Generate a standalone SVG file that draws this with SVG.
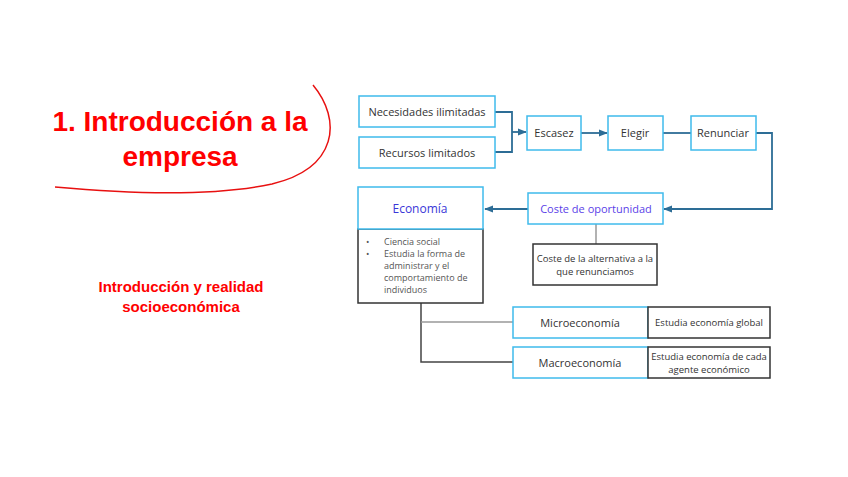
<svg xmlns="http://www.w3.org/2000/svg" width="848" height="477" viewBox="0 0 848 477">
<style>
.bx{fill:#fff;stroke:#3fbbec;stroke-width:1.5}
.bk{fill:#fff;stroke:#333;stroke-width:1.5}
.t{font-family:"Open Sans","Liberation Sans",sans-serif;font-size:11px;fill:#333;text-anchor:middle}
.s{font-family:"Open Sans","Liberation Sans",sans-serif;font-size:9px;fill:#555}
.c{fill:none;stroke:#2d6d96;stroke-width:1.8}
.g{fill:none;stroke:#999;stroke-width:1.5}
.d{fill:none;stroke:#444;stroke-width:1.5}
.red{font-family:"Liberation Sans",Arial,sans-serif;font-weight:bold;fill:#ff0000;text-anchor:middle}
</style>
<defs>
<marker id="ar" viewBox="0 0 10 10" refX="9" refY="5" markerWidth="5" markerHeight="5" orient="auto"><path d="M0,1 L10,5 L0,9 z" fill="#2d6d96"/></marker>
</defs>
<rect width="848" height="477" fill="#fff"/>
<g id="title">
<text class="red" x="180" y="131" font-size="28">1. Introducción a la</text>
<text class="red" x="180" y="166" font-size="28">empresa</text>
<path d="M313,85 C342,120 338,168 272,184 C205,198 120,193 55,187" fill="none" stroke="#e81010" stroke-width="1.5"/>
</g>
<g id="subtitle">
<text class="red" x="181" y="292" font-size="15">Introducción y realidad</text>
<text class="red" x="181" y="312" font-size="15">socioeconómica</text>
</g>
<g id="connectors">
<path class="c" d="M495,112 H512 V152 H495" stroke="#6a93ae"/>
<path class="c" d="M495,152 H512"/>
<path class="c" d="M512,132 H526" marker-end="url(#ar)"/>
<path class="c" d="M581,133 H607" marker-end="url(#ar)"/>
<path class="c" d="M663,133 H691"/>
<path class="c" d="M756,133 H772 V209 H664" marker-end="url(#ar)"/>
<path class="c" d="M528,209 H485" marker-end="url(#ar)"/>
<path class="g" d="M596,224 V244"/>
<path class="d" d="M421,303 V362 H513"/>
<path class="g" d="M421,322 H513"/>
</g>
<g id="necesidades"><rect class="bx" x="359" y="96" width="136" height="31"/><text class="t" x="427" y="116">Necesidades ilimitadas</text></g>
<g id="recursos"><rect class="bx" x="359" y="137" width="136" height="31"/><text class="t" x="427" y="157">Recursos limitados</text></g>
<g id="escasez"><rect class="bx" x="527" y="116" width="54" height="34"/><text class="t" x="554" y="137">Escasez</text></g>
<g id="elegir"><rect class="bx" x="608" y="116" width="55" height="34"/><text class="t" x="635" y="137">Elegir</text></g>
<g id="renunciar"><rect class="bx" x="691" y="116" width="65" height="34"/><text class="t" x="723" y="137">Renunciar</text></g>
<g id="coste"><rect class="bx" x="528" y="193" width="135" height="31"/><text class="t" x="596" y="213" fill="#5b3fe8" style="fill:#5b3fe8">Coste de oportunidad</text></g>
<g id="coste-def"><rect class="bk" x="533" y="244" width="124" height="41"/><text class="t" x="595" y="262" font-size="9.5" style="font-size:9.5px">Coste de la alternativa a la</text><text class="t" x="595" y="275" style="font-size:9.5px">que renunciamos</text></g>
<g id="economia">
<rect class="bk" x="358" y="229" width="125" height="74"/>
<rect class="bx" x="358" y="187" width="125" height="42"/>
<text class="t" x="420" y="213" style="fill:#3a36d8;font-size:12px">Economía</text>
<text class="s" x="366" y="245">•</text><text class="s" x="384" y="245">Ciencia social</text>
<text class="s" x="366" y="257">•</text><text class="s" x="384" y="257">Estudia la forma de</text>
<text class="s" x="384" y="269">administrar y el</text>
<text class="s" x="384" y="281">comportamiento de</text>
<text class="s" x="384" y="293">individuos</text>
</g>
<g id="micro"><rect class="bx" x="513" y="307" width="135" height="31"/><text class="t" x="580" y="327">Microeconomía</text></g>
<g id="micro-def"><rect class="bk" x="648" y="307" width="122" height="31"/><text class="t" x="709" y="326" style="font-size:9.5px">Estudia economía global</text></g>
<g id="macro"><rect class="bx" x="513" y="347" width="135" height="31"/><text class="t" x="580" y="367">Macroeconomía</text></g>
<g id="macro-def"><rect class="bk" x="648" y="347" width="122" height="31"/><text class="t" x="709" y="360" style="font-size:9.5px">Estudia economía de cada</text><text class="t" x="709" y="373" style="font-size:9.5px">agente económico</text></g>
</svg>
